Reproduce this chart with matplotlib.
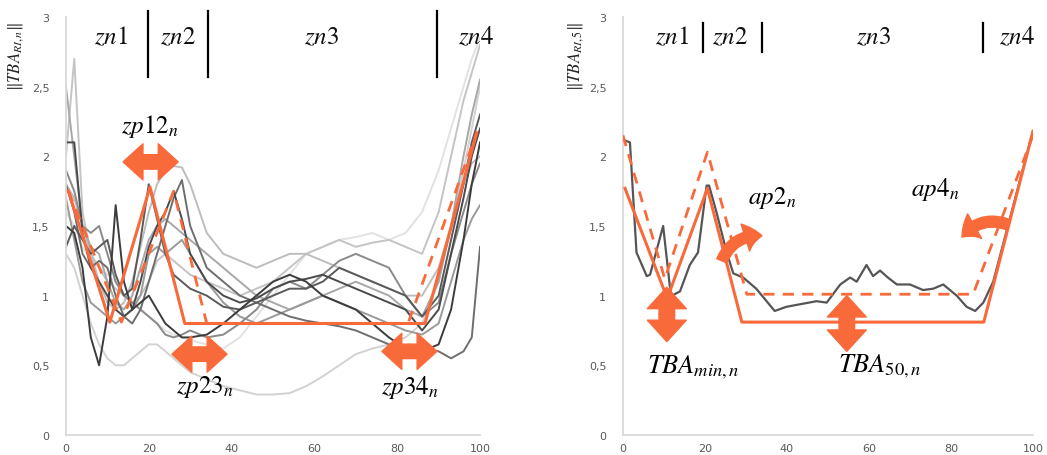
import numpy as np
import matplotlib
matplotlib.use("Agg")
import matplotlib.pyplot as plt
from matplotlib.patches import FancyArrowPatch

plt.rcParams["mathtext.fontset"] = "stix"
plt.rcParams["font.family"] = ["DejaVu Sans"]

# ----------------------------------------------------
# data
# ----------------------------------------------------
grid = [0, 2, 4, 6, 8, 10, 12, 14, 16, 18, 20, 22, 24, 26, 28, 30, 34, 38, 42, 46,
        50, 54, 58, 62, 66, 70, 74, 78, 82, 86, 90, 93, 96, 98, 100]

c1 = [2.0, 2.7, 1.6, 1.3, 1.2, 1.1, 1.05, 1.0, 0.95, 1.0, 1.1, 1.25, 1.3, 1.25, 1.2, 1.15, 1.1, 1.05, 1.0, 1.05,
      1.1, 1.2, 1.3, 1.35, 1.4, 1.35, 1.38, 1.4, 1.35, 1.3, 1.6, 2.0, 2.4, 2.6, 2.8]
c2 = [2.5, 2.0, 1.5, 1.35, 1.3, 1.1, 0.95, 0.9, 1.0, 1.2, 1.4, 1.5, 1.55, 1.5, 1.45, 1.4, 1.3, 1.2, 1.1, 1.0,
      0.95, 0.9, 0.95, 1.0, 1.05, 1.1, 1.05, 1.0, 0.9, 0.85, 1.1, 1.5, 2.0, 2.3, 2.55]
c3 = [2.1, 2.1, 1.45, 1.2, 1.1, 1.0, 0.9, 0.85, 0.9, 1.1, 1.35, 1.5, 1.6, 1.75, 1.55, 1.3, 1.1, 1.0, 0.95, 0.98,
      1.05, 1.1, 1.12, 1.15, 1.1, 1.05, 1.0, 0.95, 0.9, 0.75, 0.9, 1.3, 1.7, 2.0, 2.2]
c4 = [1.35, 1.5, 1.4, 1.3, 1.35, 1.4, 1.15, 1.0, 1.05, 1.4, 1.8, 1.55, 1.3, 1.15, 1.1, 1.05, 1.0, 0.92, 0.9, 0.95,
      1.0, 1.05, 1.05, 1.1, 1.2, 1.15, 1.1, 1.05, 1.0, 0.85, 1.0, 1.4, 1.8, 2.1, 2.3]
c5 = [1.5, 1.45, 1.2, 0.7, 0.5, 0.85, 1.65, 1.1, 0.9, 0.95, 1.0, 0.9, 0.8, 0.75, 0.7, 0.7, 0.72, 0.8, 0.9, 1.0,
      1.1, 1.15, 1.1, 1.0, 0.95, 0.9, 0.8, 0.7, 0.62, 0.6, 0.65, 0.9, 1.4, 1.8, 2.1]
c6 = [1.8, 1.6, 1.3, 1.2, 1.25, 1.2, 1.0, 0.85, 0.8, 0.9, 1.1, 1.3, 1.5, 1.7, 1.83, 1.5, 1.2, 1.1, 1.0, 0.95,
      0.9, 0.85, 0.82, 0.8, 0.78, 0.75, 0.7, 0.65, 0.6, 0.62, 0.6, 0.55, 0.6, 0.7, 1.35]
c7 = [1.3, 1.2, 1.0, 0.8, 0.65, 0.55, 0.5, 0.5, 0.55, 0.6, 0.65, 0.65, 0.6, 0.55, 0.5, 0.45, 0.4, 0.35, 0.32, 0.29,
      0.29, 0.3, 0.35, 0.42, 0.5, 0.58, 0.62, 0.65, 0.7, 0.8, 1.1, 1.5, 1.9, 2.2, 2.5]
c8 = [1.8, 1.7, 1.5, 1.3, 1.1, 0.95, 0.9, 0.95, 1.1, 1.35, 1.6, 1.8, 1.9, 1.93, 1.92, 1.8, 1.45, 1.3, 1.25, 1.2,
      1.25, 1.3, 1.3, 1.25, 1.2, 1.15, 1.1, 1.05, 1.0, 1.0, 1.2, 1.5, 1.8, 1.95, 2.0]
c9 = [1.9, 1.75, 1.5, 1.45, 1.5, 1.3, 1.1, 1.0, 0.95, 0.9, 0.85, 0.8, 0.72, 0.7, 0.72, 0.75, 0.7, 0.72, 0.8, 0.9,
      1.05, 1.1, 1.05, 1.15, 1.25, 1.3, 1.25, 1.2, 1.0, 0.85, 0.95, 1.3, 1.6, 1.8, 1.95]
c10 = [1.7, 1.4, 1.1, 0.95, 0.9, 0.85, 0.8, 0.85, 0.9, 1.0, 1.3, 1.35, 1.3, 1.35, 1.4, 1.3, 1.1, 0.95, 0.85, 0.8,
       0.85, 0.9, 0.95, 1.0, 0.95, 0.9, 0.85, 0.8, 0.75, 0.72, 0.8, 1.1, 1.4, 1.55, 1.65]
c11 = [1.6, 1.5, 1.35, 1.25, 1.2, 1.15, 1.1, 1.0, 0.95, 0.9, 0.85, 0.8, 0.75, 0.72, 0.7, 0.68, 0.65, 0.62, 0.7, 0.85,
       1.0, 1.15, 1.3, 1.35, 1.4, 1.42, 1.45, 1.4, 1.45, 1.6, 1.9, 2.2, 2.5, 2.7, 2.85]

left_curves = [c11, c7, c1, c8, c2, c10, c9, c6, c4, c3, c5]
left_greys = ["#e2e2e2", "#d2d2d2", "#c4c4c4", "#bdbdbd", "#a8a8a8", "#9a9a9a",
              "#8a8a8a", "#6e6e6e", "#5a5a5a", "#4a4a4a", "#3c3c3c"]

# orange templates, left panel
lt_solid_x = [0.6, 10.6, 20.3, 28.7, 86.7, 99.2]
lt_solid_y = [1.75, 0.81, 1.78, 0.80, 0.80, 2.17]
lt_dash_x = [0.6, 13.4, 26.0, 34.0, 82.6, 99.2]
lt_dash_y = [1.75, 0.81, 1.75, 0.80, 0.80, 2.17]

# right panel: one curve, RI 5
r_x = [0, 1.7, 3.3, 5.8, 6.6, 9.8, 11.5, 11.9, 13.9, 16.3, 18.3, 20.4, 21.0, 22.8, 25.3, 26.9, 29.3, 32.5,
       37, 39.9, 47.2, 49.7, 53, 55.4, 57, 59.4, 61, 62.7, 64.6, 66.8, 70, 73.2, 75.7, 78.1, 81.4,
       83.8, 85.9, 87.9, 90.3, 100]
r_y = [2.12, 2.10, 1.31, 1.14, 1.15, 1.50, 1.05, 1.00, 1.03, 1.22, 1.31, 1.79, 1.79, 1.60, 1.31, 1.16, 1.13, 1.05,
       0.89, 0.92, 0.96, 0.95, 1.08, 1.13, 1.10, 1.22, 1.14, 1.18, 1.13, 1.08, 1.08, 1.04, 1.05, 1.08, 1.00,
       0.92, 0.89, 0.95, 1.10, 2.18]
rt_solid_x = [0.5, 10.8, 20.6, 29.0, 88.0, 100]
rt_solid_y = [1.77, 0.98, 1.77, 0.81, 0.81, 2.18]
rt_dash_x = [0, 10.2, 20.6, 30.2, 85.4, 100]
rt_dash_y = [2.15, 1.12, 2.03, 1.01, 1.01, 2.15]

xticks = [0, 20, 40, 60, 80, 100]
yticks = [0, 0.5, 1, 1.5, 2, 2.5, 3]
ytick_labels = ["0", "0,5", "1", "1,5", "2", "2,5", "3"]

ORANGE = "#f96a3b"


def style_axis(ax):
    ax.set_xlim(0, 100)
    ax.set_ylim(0, 3)
    for s in ["top", "right"]:
        ax.spines[s].set_visible(False)
    for s in ["left", "bottom"]:
        ax.spines[s].set_color("#d9d9d9")
        ax.spines[s].set_linewidth(1.3)
    ax.set_xticks(xticks)
    ax.set_yticks(yticks)
    ax.set_yticklabels(ytick_labels)
    ax.tick_params(length=0, labelsize=8, labelcolor="#595959", pad=12)
    ax.tick_params(axis="x", pad=6)


def double_arrow(ax, x0, y0, x1, y1, ms=13):
    xm, ym = (x0 + x1) / 2, (y0 + y1) / 2
    for xe, ye in [(x0, y0), (x1, y1)]:
        a = FancyArrowPatch((xm, ym), (xe, ye), arrowstyle="simple,head_width=2.0,head_length=1.1,tail_width=0.8",
                            mutation_scale=ms, color=ORANGE, shrinkA=0, shrinkB=0, zorder=6)
        ax.add_patch(a)


def curved_arrow(ax, x0, y0, x1, y1, rad):
    a = FancyArrowPatch((x0, y0), (x1, y1), connectionstyle="arc3,rad=%s" % rad,
                        arrowstyle="simple,head_width=1.7,head_length=1.0,tail_width=0.65",
                        mutation_scale=12, color=ORANGE, shrinkA=0, shrinkB=0, zorder=6)
    ax.add_patch(a)


def zones(ax, labels_x, bars_x, y_lab, y0, y1):
    for lx, t in zip(labels_x, ["$zn1$", "$zn2$", "$zn3$", "$zn4$"]):
        ax.text(lx, y_lab, t, fontsize=18, ha="center", va="center", color="#111111")
    for bx in bars_x:
        ax.plot([bx, bx], [y0, y1], color="black", lw=1.6, clip_on=False)


fig = plt.figure(figsize=(10.47, 4.56), dpi=100)
ax1 = fig.add_axes([0.063, 0.044, 0.3955, 0.9165])
ax2 = fig.add_axes([0.595, 0.044, 0.3916, 0.9165])

# ----------------------------------------------------
# left panel
# ----------------------------------------------------
style_axis(ax1)
for cv, col in zip(left_curves, left_greys):
    ax1.plot(grid, cv, color=col, lw=1.4)
ax1.plot(lt_dash_x, lt_dash_y, color=ORANGE, lw=2, ls=(0, (4, 3)), zorder=5)
ax1.plot(lt_solid_x, lt_solid_y, color=ORANGE, lw=2.2, zorder=5)

zones(ax1, [10.9, 27.1, 61.8, 99.0], [19.8, 34.3, 89.6], 2.86, 2.57, 3.04)

double_arrow(ax1, 13.8, 1.96, 27.1, 1.96)
double_arrow(ax1, 25.6, 0.58, 38.9, 0.58)
double_arrow(ax1, 76.3, 0.60, 89.6, 0.60)
ax1.text(20.3, 2.22, "$zp12_n$", fontsize=18, ha="center", va="center")
ax1.text(33.6, 0.35, "$zp23_n$", fontsize=18, ha="center", va="center")
ax1.text(83.1, 0.35, "$zp34_n$", fontsize=18, ha="center", va="center")

# ----------------------------------------------------
# right panel
# ----------------------------------------------------
style_axis(ax2)
ax2.plot(r_x, r_y, color="#555555", lw=1.6)
ax2.plot(rt_dash_x, rt_dash_y, color=ORANGE, lw=2, ls=(0, (4, 3)), zorder=5)
ax2.plot(rt_solid_x, rt_solid_y, color=ORANGE, lw=2.2, zorder=5)

zones(ax2, [12.0, 26.1, 61.0, 96.1], [19.5, 33.9, 87.8], 2.86, 2.75, 2.96)

double_arrow(ax2, 10.7, 1.06, 10.7, 0.67, ms=14)
double_arrow(ax2, 54.6, 1.00, 54.6, 0.60, ms=14)
ax2.text(17.1, 0.49, "$TBA_{min,n}$", fontsize=19, ha="center", va="center")
ax2.text(62.7, 0.50, "$TBA_{50,n}$", fontsize=19, ha="center", va="center")

curved_arrow(ax2, 24.1, 1.25, 33.9, 1.43, -0.35)
curved_arrow(ax2, 93.9, 1.51, 82.7, 1.42, 0.35)
ax2.text(36.3, 1.71, "$ap2_n$", fontsize=18, ha="center", va="center")
ax2.text(76.1, 1.77, "$ap4_n$", fontsize=18, ha="center", va="center")

# y labels
fig.text(16 / 1047, 1 - 57 / 456, r"$\Vert TBA_{RI,n}\Vert$", rotation=90, fontsize=12,
         ha="center", va="center", color="#222222")
fig.text(576 / 1047, 1 - 57 / 456, r"$\Vert TBA_{RI,5}\Vert$", rotation=90, fontsize=12,
         ha="center", va="center", color="#222222")

fig.savefig("out.png", dpi=100)
